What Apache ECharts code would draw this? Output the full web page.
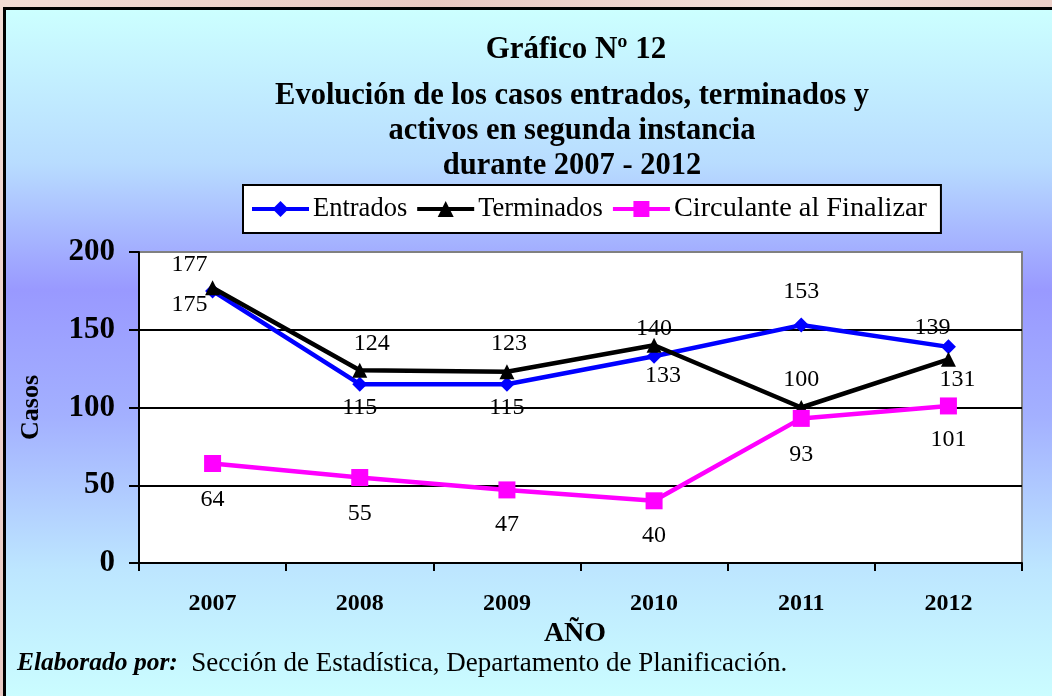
<!DOCTYPE html>
<html>
<head>
<meta charset="utf-8">
<script src="https://cdn.jsdelivr.net/npm/echarts@6/dist/echarts.min.js"></script>
<style>
  html, body { margin: 0; padding: 0; width: 1052px; height: 696px; overflow: hidden;
    background: linear-gradient(120deg, #f3dcd5 0%, #e9c9c2 30%, #f4e0da 55%, #e8c8c1 80%, #f2d9d2 100%); }
  #panel { position: absolute; left: 3px; top: 7px; width: 1060px; height: 700px;
    border-left: 3px solid #000; border-top: 3px solid #000;
    background: linear-gradient(to bottom, #ccffff 0%, #b8dcff 22%, #9999ff 40%, #a3b0ff 58%, #bde6ff 80%, #ccffff 100%); }
  #chart { position: absolute; left: 0; top: 0; width: 1052px; height: 696px; }
</style>
</head>
<body>
<div id="panel"></div>
<div id="chart"></div>
<script>
// ---- data ----
const years = ['2007', '2008', '2009', '2010', '2011', '2012'];
const entrados = [175, 115, 115, 133, 153, 139];
const terminados = [177, 124, 123, 140, 100, 131];
const circulante = [64, 55, 47, 40, 93, 101];
const seriesNames = ['Entrados', 'Terminados', 'Circulante al Finalizar'];
const titleLine1 = 'Gráfico Nº 12';
const titleLines = ['Evolución de los casos entrados, terminados y', 'activos en segunda instancia', 'durante 2007 - 2012'];
const yTicks = { min: 0, max: 200, interval: 50 };

// label placement (style, not data)
const entradosLabelOffsets = [[-23, 14], [0, 24], [0, 24], [9, 20], [0, -33], [-16, -19]];
const terminadosLabelOffsets = [[-23, -23], [12, -26], [2, -28], [0, -17], [0, -28], [9, 20]];
const circulanteLabelOffsets = [[0, 36], [0, 36], [0, 35], [0, 35], [0, 36], [0, 34]];

const SERIF = '"Liberation Serif", "Times New Roman", serif';

function withLabels(values, offsets) {
  return values.map((v, i) => ({
    value: v,
    label: { offset: offsets[i] }
  }));
}

const labelBase = {
  show: true, position: 'inside', color: '#000',
  fontFamily: SERIF, fontSize: 24
};

const legendFontSizes = [26.5, 26.5, 28.3];

const chart = echarts.init(document.getElementById('chart'), null, { renderer: 'canvas' });
chart.setOption({
  backgroundColor: 'transparent',
  animation: false,
  textStyle: { fontFamily: SERIF },
  title: [
    { text: titleLine1, left: 576, top: 32, textAlign: 'center',
      textStyle: { fontFamily: SERIF, fontWeight: 'bold', fontSize: 31, lineHeight: 36, color: '#000' }, padding: 0 },
    { text: titleLines.join('\n'), left: 572, top: 79, textAlign: 'center',
      textStyle: { fontFamily: SERIF, fontWeight: 'bold', fontSize: 30.5, lineHeight: 35, color: '#000' }, padding: 0 }
  ],
  legend: {
    left: 243, top: 185,
    backgroundColor: '#fff', borderColor: '#000', borderWidth: 2,
    padding: [10, 14, 10, 7],
    itemWidth: 57, itemHeight: 20, itemGap: 8,
    lineStyle: { width: 4 },
    textStyle: { fontFamily: SERIF, fontSize: 26.5, color: '#000', padding: [0, 0, 0, -1] },
    data: seriesNames.map((n, i) => ({ name: n, textStyle: { fontSize: legendFontSizes[i] } }))
  },
  grid: {
    left: 139, top: 252, right: 30, bottom: 133,
    show: true, backgroundColor: '#fff', borderColor: '#808080', borderWidth: 2
  },
  xAxis: {
    type: 'category', data: years, boundaryGap: true,
    name: 'AÑO', nameLocation: 'middle', nameGap: 57,
    nameTextStyle: { fontFamily: SERIF, fontWeight: 'bold', fontSize: 28, color: '#000', padding: [0, 11, 0, 0] },
    axisLine: { show: true, lineStyle: { color: '#000', width: 2 } },
    axisTick: { show: true, length: 8, lineStyle: { color: '#000', width: 2 } },
    axisLabel: { fontFamily: SERIF, fontWeight: 'bold', fontSize: 24, color: '#000', margin: 29 },
    splitLine: { show: false }
  },
  yAxis: {
    type: 'value', min: yTicks.min, max: yTicks.max, interval: yTicks.interval,
    name: 'Casos', nameLocation: 'middle', nameGap: 95, nameRotate: 90,
    nameTextStyle: { fontFamily: SERIF, fontWeight: 'bold', fontSize: 26, color: '#000' },
    axisLine: { show: true, lineStyle: { color: '#000', width: 2 } },
    axisTick: { show: true, length: 10, lineStyle: { color: '#000', width: 2 } },
    axisLabel: { fontFamily: SERIF, fontWeight: 'bold', fontSize: 31, color: '#000', margin: 24 },
    splitLine: { show: true, lineStyle: { color: ['#000', '#000', '#000', '#000', '#808080'], width: 2 } }
  },
  series: [
    { name: seriesNames[0], type: 'line', data: withLabels(entrados, entradosLabelOffsets),
      symbol: 'diamond', symbolSize: 15, color: '#0000ff',
      lineStyle: { width: 4.5, color: '#0000ff' }, itemStyle: { color: '#0000ff' },
      label: labelBase, z: 2 },
    { name: seriesNames[1], type: 'line', data: withLabels(terminados, terminadosLabelOffsets),
      symbol: 'triangle', symbolSize: 15, color: '#000',
      lineStyle: { width: 4.5, color: '#000' }, itemStyle: { color: '#000' },
      label: labelBase, z: 3 },
    { name: seriesNames[2], type: 'line', data: withLabels(circulante, circulanteLabelOffsets),
      symbol: 'rect', symbolSize: 17, color: '#ff00ff',
      lineStyle: { width: 4.5, color: '#ff00ff' }, itemStyle: { color: '#ff00ff' },
      label: labelBase, z: 4 }
  ],
  graphic: [
    { type: 'text', left: 17, top: 650,
      style: {
        text: '{b|Elaborado por:}  Sección de Estadística, Departamento de Planificación.',
        font: '27px ' + SERIF, fill: '#000',
        rich: { b: { fontFamily: SERIF, fontSize: 25.5, fontWeight: 'bold', fontStyle: 'italic', fill: '#000' } }
      } }
  ]
});
</script>
</body>
</html>
